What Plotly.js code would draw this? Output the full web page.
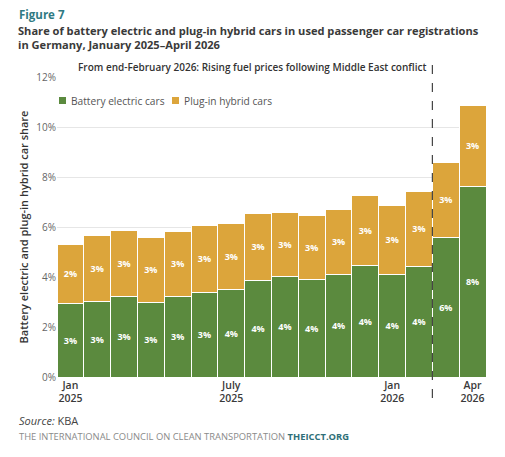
<!DOCTYPE html>
<html>
<head>
<meta charset="utf-8">
<script src="https://cdn.plot.ly/plotly-3.0.1.min.js"></script>
<style>html,body{margin:0;padding:0;background:#fff;}#chart{width:505px;height:457px;}</style>
</head>
<body>
<div id="chart"></div>
<script>
// Months Jan 2025 – Apr 2026
const months = ["Jan 2025","Feb 2025","Mar 2025","Apr 2025","May 2025","Jun 2025","Jul 2025","Aug 2025","Sep 2025","Oct 2025","Nov 2025","Dec 2025","Jan 2026","Feb 2026","Mar 2026","Apr 2026"];
// Battery electric share (%)
const bevShare = [2.95,3.04,3.21,3.00,3.24,3.40,3.51,3.88,4.01,3.92,4.11,4.47,4.12,4.44,5.59,7.64];
// Plug-in hybrid share (%)
const phevShare = [2.37,2.64,2.64,2.59,2.57,2.65,2.64,2.67,2.58,2.53,2.61,2.81,2.73,2.97,3.01,3.21];
// Tick labels
const tickMonths = ["Jan 2025","Jul 2025","Jan 2026","Apr 2026"];
const tickLabels = ["Jan<br>2025","July<br>2025","Jan<br>2026","Apr<br>2026"];
const yTicks = [0,2,4,6,8,10,12];
const yTickLabels = ["0%","2%","4%","6%","8%","10%","12%"];
const seriesNames = ["Battery electric cars","Plug-in hybrid cars"];

const FONT = "Open Sans, Liberation Sans, sans-serif";
const GREEN = "#5b8a3e";
const GOLD = "#dca53b";

const pct = v => Math.round(v) + "%";

function barTrace(name, vals, color) {
  return {
    type: "bar", name: name, x: months, y: vals,
    marker: {color: color, line: {color: "#ffffff", width: 1}},
    text: vals.map(pct), textposition: "inside", insidetextanchor: "middle",
    textangle: 0, constraintext: "none",
    textfont: {family: FONT, size: 9, color: "#ffffff", weight: 700},
    hoverinfo: "skip", showlegend: false
  };
}
const traces = [barTrace(seriesNames[0], bevShare, GREEN), barTrace(seriesNames[1], phevShare, GOLD)];

const py = p => (377 - p) / 300;   // pixel -> paper y
const px = p => (p - 57) / 429;    // pixel -> paper x

const legendItems = [
  {x: 59, color: GREEN, text: seriesNames[0]},
  {x: 172, color: GOLD, text: seriesNames[1]}
];
const legendShapes = legendItems.map(it => ({
  type: "rect", xref: "paper", yref: "paper",
  x0: px(it.x), x1: px(it.x + 7), y0: py(104), y1: py(97),
  fillcolor: it.color, line: {width: 0}
}));
const legendAnn = legendItems.map(it => ({
  xref: "paper", yref: "paper", x: px(it.x + 10), y: py(100.5), xanchor: "left", yanchor: "middle",
  text: it.text, showarrow: false, font: {family: FONT, size: 10.2, color: "#555"}
}));

const layout = {
  width: 505, height: 457,
  margin: {l: 57, r: 19, t: 77, b: 80, pad: 0},
  paper_bgcolor: "#ffffff", plot_bgcolor: "#ffffff",
  barmode: "stack", bargap: 0,
  font: {family: FONT, color: "#444"},
  showlegend: false,
  xaxis: {
    type: "category", categoryorder: "array", categoryarray: months,
    tickmode: "array", tickvals: tickMonths, ticktext: tickLabels,
    tickfont: {family: FONT, size: 10.5, color: "#3a3a3a", weight: 600},
    ticks: "", showgrid: false, zeroline: false, showline: false,
    range: [-0.5, 15.5], fixedrange: true
  },
  yaxis: {
    range: [0, 12], tickmode: "array", tickvals: yTicks, ticktext: yTickLabels,
    tickfont: {family: FONT, size: 10, color: "#666"},
    gridcolor: "#e6e6e6", gridwidth: 1, zeroline: false, showline: false, ticks: "",
    title: {text: "Battery electric and plug-in hybrid car share", standoff: 5,
            font: {family: FONT, size: 11, color: "#333", weight: 600}},
    fixedrange: true
  },
  shapes: [
    {type: "line", xref: "x", yref: "paper", x0: 13.5, x1: 13.5, y0: py(398), y1: py(62),
     line: {color: "#444", width: 1.2, dash: "dash"}}
  ].concat(legendShapes),
  annotations: [
    {xref: "paper", yref: "paper", x: px(17), y: py(14), xanchor: "left", yanchor: "middle",
     text: "<b>Figure 7</b>", showarrow: false, font: {family: FONT, size: 11.5, color: "#2f7a83"}},
    {xref: "paper", yref: "paper", x: px(16), y: py(37), xanchor: "left", yanchor: "middle", align: "left",
     text: "<b>Share of battery electric and plug-in hybrid cars in used passenger car registrations<br>in Germany, January 2025–April 2026</b>",
     showarrow: false, font: {family: FONT, size: 11.1, color: "#3a3a3a"}},
    {xref: "x", yref: "paper", x: 13.5, xshift: -4, y: py(67), xanchor: "right", yanchor: "middle",
     text: "From end-February 2026: Rising fuel prices following Middle East conflict",
     showarrow: false, font: {family: FONT, size: 10, color: "#333", weight: 600}},
    {xref: "paper", yref: "paper", x: px(17), y: py(420), xanchor: "left", yanchor: "middle",
     text: "<i>Source:</i> KBA", showarrow: false, font: {family: FONT, size: 11, color: "#444"}},
    {xref: "paper", yref: "paper", x: px(17), y: py(436), xanchor: "left", yanchor: "middle",
     text: "THE INTERNATIONAL COUNCIL ON CLEAN TRANSPORTATION <b><span style=\"color:#2f6f78\">THEICCT.ORG</span></b>",
     showarrow: false, font: {family: FONT, size: 9.4, color: "#8a8a8a"}}
  ].concat(legendAnn)
};

Plotly.newPlot("chart", traces, layout, {displayModeBar: false, staticPlot: true});
</script>
</body>
</html>
